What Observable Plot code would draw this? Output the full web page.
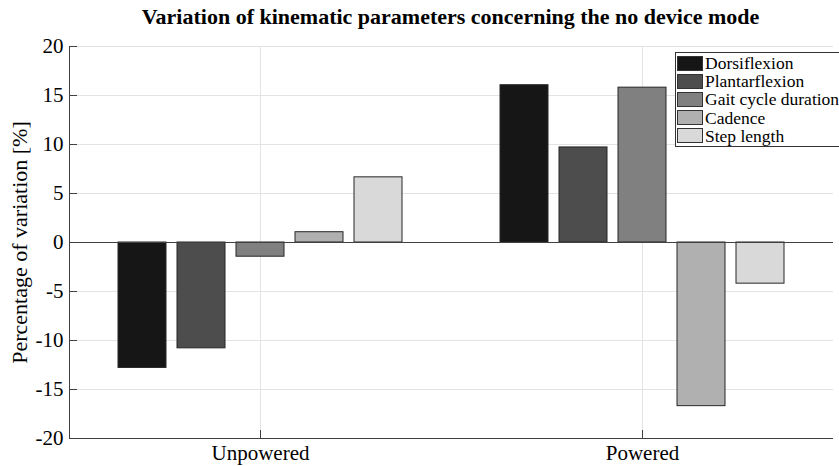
<!DOCTYPE html>
<html>
<head>
<meta charset="utf-8">
<script src="https://cdn.jsdelivr.net/npm/d3@7"></script>
<script src="https://cdn.jsdelivr.net/npm/@observablehq/plot@0.6"></script>
<style>
  html, body { margin: 0; padding: 0; background: #fff; }
  #wrap { position: relative; width: 839px; height: 466px; overflow: hidden; font-family: "Liberation Serif", "Times New Roman", serif; }
  #title { position: absolute; left: 68px; width: 765px; top: 4px; text-align: center; font-size: 22px; font-weight: bold; line-height: 26px; color: #000; font-family: "Liberation Serif", "Times New Roman", serif; }
  #chart { position: absolute; left: 0; top: 30px; }
  #legend { position: absolute; left: 675px; top: 52px; width: 170px; border: 1px solid #333; background: #fff; padding: 1px 0 1px 1px; box-sizing: border-box; }
  .row { display: flex; align-items: center; height: 18.2px; }
  .sw { width: 26px; height: 15px; border: 1px solid #333; box-sizing: border-box; margin-right: 2px; flex: none; }
  .lab { font-family: "Liberation Serif", "Times New Roman", serif; font-size: 17.5px; line-height: 18px; color: #000; white-space: nowrap; }
</style>
</head>
<body>
<div id="wrap">
  <div id="title">Variation of kinematic parameters concerning the no device mode</div>
  <div id="chart"></div>
  <div id="legend"></div>
</div>
<script>
const categories = ["Unpowered", "Powered"];
const series = ["Dorsiflexion", "Plantarflexion", "Gait cycle duration", "Cadence", "Step length"];
const unpoweredValues = [-12.8, -10.8, -1.45, 1.05, 6.65];
const poweredValues = [16.05, 9.7, 15.8, -16.7, -4.2];
const seriesColors = ["#161616", "#4d4d4d", "#808080", "#b0b0b0", "#d9d9d9"];
const yTicks = [-20, -15, -10, -5, 0, 5, 10, 15, 20];

const valuesByCategory = [unpoweredValues, poweredValues];
const data = [];
categories.forEach((c, i) => {
  series.forEach((s, j) => data.push({category: c, series: s, value: valuesByCategory[i][j]}));
});

const font = '"Liberation Serif", "Times New Roman", serif';

const chart = Plot.plot({
  width: 839,
  height: 436,
  marginLeft: 68,
  marginRight: 6,
  marginTop: 16,
  marginBottom: 28,
  style: {fontFamily: font, color: "#000", background: "transparent"},
  fx: {domain: categories, padding: 0, axis: null, label: null},
  x: {domain: series, axis: null, paddingInner: 0.193, paddingOuter: 0.79},
  y: {domain: [-20, 20], axis: null},
  color: {domain: series, range: seriesColors},
  marks: [
    Plot.gridY(yTicks, {stroke: "#e3e3e3", strokeOpacity: 1}),
    Plot.gridFx({stroke: "#e3e3e3", strokeOpacity: 1}),
    Plot.barY(data, {fx: "category", x: "series", y: "value", fill: "series", stroke: "#262626", strokeWidth: 1}),
    Plot.ruleY([0], {stroke: "#404040"}),
    Plot.ruleY([-20], {stroke: "#404040"}),
    Plot.frame({anchor: "left", facetAnchor: "left", stroke: "#404040"}),
    Plot.axisY(yTicks, {
      anchor: "left",
      tickSize: -8,
      tickPadding: 14,
      tickFormat: d => String(d),
      fontSize: 21,
      stroke: "#404040",
      label: null
    }),
    Plot.axisY({
      anchor: "left",
      ticks: [],
      tickSize: 0,
      fontSize: 22,
      label: "Percentage of variation [%]",
      labelAnchor: "center",
      labelArrow: "none",
      labelOffset: 58
    }),
    Plot.axisFx({
      anchor: "bottom",
      tickSize: -8,
      tickPadding: 15,
      fontSize: 21,
      stroke: "#404040",
      label: null
    })
  ]
});
document.getElementById("chart").appendChild(chart);

const legend = document.getElementById("legend");
series.forEach((s, i) => {
  const row = document.createElement("div");
  row.className = "row";
  const sw = document.createElement("div");
  sw.className = "sw";
  sw.style.background = seriesColors[i];
  const lab = document.createElement("span");
  lab.className = "lab";
  lab.textContent = s;
  row.appendChild(sw);
  row.appendChild(lab);
  legend.appendChild(row);
});
</script>
</body>
</html>
